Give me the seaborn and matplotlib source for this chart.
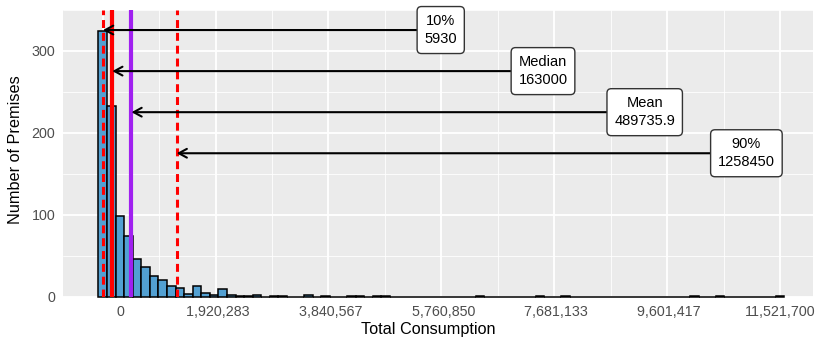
import numpy as np
import pandas as pd
import matplotlib
matplotlib.use("Agg")
import matplotlib.pyplot as plt
import seaborn as sns

# Histogram of total consumption per premise: 80 equal-width bins,
# the first centred on 0 and the last on the maximum (11,521,700).
max_consumption = 11521700
n_bins = 80
counts = [
    324, 232, 99, 74, 46, 36, 25, 21, 14, 11,
    4, 14, 5, 3, 10, 2, 1, 1, 2, 0,
    1, 1, 0, 0, 3, 0, 1, 0, 0, 1,
    1, 0, 1, 1, 0, 0, 0, 0, 0, 0,
    0, 0, 0, 0, 1, 0, 0, 0, 0, 0,
    0, 1, 0, 0, 1, 0, 0, 0, 0, 0,
    0, 0, 0, 0, 0, 0, 0, 0, 0, 1,
    0, 0, 1, 0, 0, 0, 0, 0, 0, 1,
]

# Summary statistics marked on the chart
stat_names = ["10%", "Median", "Mean", "90%"]
stat_values = [5930, 163000, 489735.9, 1258450]
stat_text = ["5930", "163000", "489735.9", "1258450"]
label_x = [5.75e6, 7.49e6, 9.22e6, 10.95e6]
label_y = [325, 275, 225, 175]

# Axis ticks
x_ticks = [0, 1920283, 3840567, 5760850, 7681133, 9601417, 11521700]
x_tick_labels = ["0", "1,920,283", "3,840,567", "5,760,850",
                 "7,681,133", "9,601,417", "11,521,700"]
y_ticks = [0, 100, 200, 300]

bin_width = max_consumption / (n_bins - 1)
centers = np.arange(n_bins) * bin_width
edges = list(np.append(centers - bin_width / 2, centers[-1] + bin_width / 2))
df = pd.DataFrame({"consumption": centers, "n": counts})

sns.set_style("darkgrid", {"axes.facecolor": "#EBEBEB", "grid.color": "white"})
plt.rcParams["font.family"] = ["Liberation Sans", "DejaVu Sans"]

fig = plt.figure(figsize=(8.15, 3.43), dpi=100)
ax = fig.add_axes([63 / 815, 46 / 343, 750 / 815, 287.5 / 343])

sns.histplot(data=df, x="consumption", weights="n", bins=edges,
             color="#52A0D2", alpha=1, edgecolor="black", linewidth=1.1, ax=ax)
# keep the outlines of empty bins visible along the baseline
for p in ax.patches:
    p.set_clip_on(False)

ax.set_xlim(-675300, 12083000)
ax.set_ylim(0, 350)

# Reference lines for quantiles, median and mean
ax.axvline(stat_values[0], color="red", lw=2.2, ls=(0, (2.6, 1.6)), zorder=3)
ax.axvline(stat_values[1], color="red", lw=3.0, zorder=3)
ax.axvline(stat_values[2], color="#A020F0", lw=3.0, zorder=3)
ax.axvline(stat_values[3], color="red", lw=2.2, ls=(0, (2.6, 1.6)), zorder=3)

for name, val, txt, lx, ly in zip(stat_names, stat_values, stat_text, label_x, label_y):
    ax.annotate(f"{name}\n{txt}", xy=(val, ly), xytext=(lx, ly),
                ha="center", va="center", fontsize=10.5, linespacing=1.4,
                color="black", zorder=5,
                bbox=dict(boxstyle="round,pad=0.5,rounding_size=0.3",
                          fc="white", ec="#333333", lw=1.0),
                arrowprops=dict(arrowstyle="->,head_length=0.55,head_width=0.3",
                                color="black", lw=1.5, shrinkA=0, shrinkB=0),
                annotation_clip=False)

# Tick labels padded to a common width
width = max(len(s) for s in x_tick_labels)
ax.set_xticks(x_ticks)
ax.set_xticklabels([s.rjust(width) for s in x_tick_labels])
ax.set_xticks([(a + b) / 2 for a, b in zip(x_ticks[:-1], x_ticks[1:])], minor=True)
ax.set_yticks(y_ticks)
ax.set_yticks([50, 150, 250, 350], minor=True)

ax.grid(which="major", color="white", lw=1.3)
ax.grid(which="minor", color="white", lw=0.6)
ax.tick_params(which="major", length=3.5, width=1.1, color="#333333",
               labelsize=10.3, labelcolor="#4D4D4D", pad=2)
ax.tick_params(which="minor", length=0)
for s in ax.spines.values():
    s.set_visible(False)

ax.set_xlabel("Total Consumption", fontsize=11.7, color="black")
ax.set_ylabel("Number of Premises", fontsize=11.7, color="black")
ax.xaxis.set_label_coords((428.7 - 63) / 750, (297 - 322) / 287.5)
ax.yaxis.set_label_coords((23 - 63) / 750, 0.511)

fig.savefig("out.png", dpi=100)
